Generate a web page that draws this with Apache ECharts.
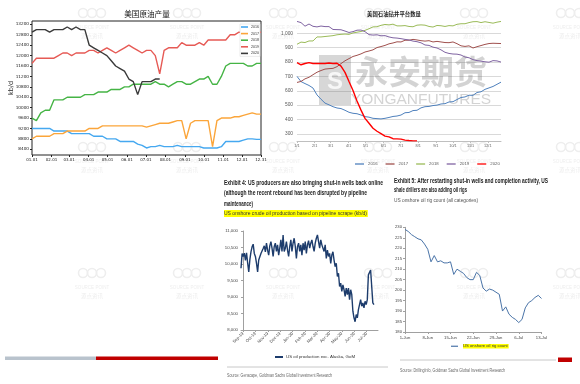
<!DOCTYPE html>
<html><head><meta charset="utf-8">
<script src="https://cdn.jsdelivr.net/npm/echarts@6/dist/echarts.min.js"></script>
<style>html,body{margin:0;padding:0;background:#fff}#c{width:580px;height:384px}</style>
</head><body><div id="c"></div>
<script>
// ---------- Chart 1: 美国原油产量 (weekly, kb/d) ----------
const prodDayTicks = [0,31,59,90,120,151,181,212,243,273,304,334,364];
const prodDayLabels = ['01.01','02.01','03.01','04.01','05.01','06.01','07.01','08.01','09.01','10.01','11.01','12.01','12.31'];
const prodYTicks = [8400,8800,9200,9600,10000,10400,10800,11200,11600,12000,12400,12800,13200];
const prodYears = ['2016','2017','2018','2019','2020'];
const prod2016 = [9200,9200,9200,9200,9200,9100,9100,9100,9100,9000,9000,9000,9000,9000,8900,8900,8900,8800,8800,8800,8700,8700,8700,8700,8600,8550,8450,8500,8500,8550,8500,8500,8500,8550,8500,8500,8500,8500,8500,8450,8450,8450,8450,8500,8700,8700,8700,8700,8750,8800,8800,8780,8780];
const prod2017 = [8800,8900,8900,8900,8900,9000,9000,9000,9100,9100,9100,9100,9100,9200,9200,9200,9300,9300,9300,9300,9300,9300,9300,9300,9300,9300,9250,9300,9350,9400,9400,9400,9450,9500,9500,8800,9400,9500,9500,9500,9500,8500,9500,9600,9600,9600,9650,9650,9700,9750,9800,9750,9750];
const prod2018 = [9600,9500,9800,9900,9900,10300,10300,10300,10400,10400,10400,10400,10500,10500,10500,10600,10600,10600,10700,10700,10700,10800,10800,10900,10900,10900,10900,10900,11000,10900,10900,10800,10900,11000,11000,10900,10900,11000,11100,11100,11200,10900,10900,11200,11600,11700,11700,11700,11700,11600,11600,11700,11700];
const prod2019 = [11700,11900,11900,11900,11900,11900,12000,12100,12100,12000,12100,12100,12100,12200,12200,12100,12200,12300,12200,12100,12200,12300,12400,12300,12200,12100,12200,12200,12000,11300,12200,12300,12300,12300,12500,12400,12400,12400,12500,12400,12600,12600,12600,12600,12600,12800,12800,12900,12900,12800,12800,12900,12900];
const prod2020 = [12900,13000,13000,13000,12900,13000,13000,13000,13100,13000,13100,13000,13000,12400,12300,12200,12100,12000,11800,11600,11500,11400,11100,11000,10500,11000,11000,11000,11100,11100];
const prodColors = ['#45a8f0','#fba53a','#45b445','#e65a55','#3a3a3a'];

// ---------- Chart 2: 美国石油钻井平台数量 (weekly) ----------
const rigWeekTicks = [0,4.4,8.4,12.9,17.1,21.6,25.9,30.3,34.7,39,43.4,47.7];
const rigWeekLabels = ['1/1','2/1','3/1','4/1','5/1','6/1','7/1','8/1','9/1','10/1','11/1','12/1'];
const rigYTicks = [300,400,500,600,700,800,900,1000];
const rig2016 = [700,664,650,637,619,571,541,514,502,489,480,476,464,450,443,440,431,420,416,408,406,404,408,414,421,424,431,447,449,462,464,481,489,491,497,500,508,510,522,524,539,553,557,569,568,588,593,610,620,630,645,660];
const rig2017 = [658,665,683,694,712,729,741,751,754,756,768,789,809,824,839,847,857,870,877,885,901,908,916,927,933,941,940,952,952,958,954,949,946,949,940,944,940,936,935,940,928,913,909,913,898,907,915,923,929,931,930,929];
const rig2018 = [924,939,936,947,947,975,975,978,981,984,990,993,995,993,1003,1008,1013,1021,1032,1045,1046,1056,1062,1059,1064,1052,1052,1054,1048,1046,1057,1059,1057,1048,1044,1055,1053,1048,1054,1052,1063,1067,1067,1075,1081,1082,1075,1081,1076,1071,1078,1083];
const rig2019 = [1083,1075,1050,1065,1049,1045,1051,1047,1047,1027,1026,1025,1016,1006,1012,1022,1023,1012,991,988,990,983,984,975,969,967,963,958,954,946,942,934,919,916,904,898,885,868,860,856,855,849,835,830,817,810,806,802,799,810,808,800];
const rig2020 = [796,781,790,796,790,791,790,790,793,790,792,772,728,664,602,529,465,408,374,339,318,301,284,279,266,265,263,256,253,251,251];
const rigColors = ['#4f81bd','#a0504d','#9bbb59','#8064a2','#ff0000'];

// ---------- Chart 3: US onshore crude production (kb/d), days from 2019-09-01 ----------
const gsProdTickDays = [0,30,61,91,122,153,182,213,243,274,304];
const gsProdTickLabels = ['Sep-19','Oct-19','Nov-19','Dec-19','Jan-20','Feb-20','Mar-20','Apr-20','May-20','Jun-20','Jul-20'];
const gsProdFirstDay = -5, gsProdLastDay = 322;
const gsProd = [9870,10320,10230,10330,10110,10340,10030,9760,10130,10370,10520,10600,10320,10230,10020,9760,10120,10220,10320,10370,10470,10550,10370,10630,10420,10270,10550,10680,10480,10230,10530,10630,10380,10580,10270,10480,10730,10380,10880,10380,10480,10680,10420,10230,10530,10730,10380,10630,10780,10530,10170,10530,10630,10380,10580,10270,10630,10420,10680,10320,10580,10710,10480,10630,10730,10530,10380,10630,10780,10880,10680,10480,10730,10580,10630,10380,10580,10170,10420,10230,10320,10020,10270,10370,10120,9920,10020,9620,9720,9320,9420,9170,9370,9220,9020,9270,9070,9270,8920,9220,9070,8570,8370,8250,8470,8370,8620,8770,8920,8720,8820,8670,8870,8770,8920,9670,9720,9820,9320,8820,8770];

// ---------- Chart 4: US onshore oil rig count, days from 1-Jun ----------
const gsRigTickDays = [0,7,14,21,28,35,42];
const gsRigTickLabels = ['1-Jun','8-Jun','15-Jun','22-Jun','29-Jun','6-Jul','13-Jul'];
const gsRig = [229,228,226.5,225.5,224.5,224,222,219.5,213.5,216.5,213.5,214,213,213,213.5,207.5,210,209,208,206,205,205,208.5,207,201,199.5,200.5,200,199,198,190,192,188.5,187,186,184.5,186,191.5,194,195,196.5,197.5,196];

// ---------- layout helpers ----------
const SANS = "'Liberation Sans',sans-serif";
const CJK = "'Noto Sans CJK SC',sans-serif";
const wmCols = [92,187,283,378,474,570];
const wmRows = [13,147,273];

const weekly = (arr, step) => arr.map((v,i)=>[i*step, v]);
const spread = (arr, a, b) => arr.map((v,i)=>[a + i*(b-a)/(arr.length-1), v]);
const fmtLbl = (ticks, labels) => (v) => { const k = ticks.findIndex(t=>Math.abs(t-v)<1e-6); return k>=0 ? labels[k] : ''; };
const mctx = document.createElement('canvas').getContext('2d');
// condensed text: scale horizontally so the line spans the width it has in the reference
function fitText(text, x, y, span, size, weight, color, extra) {
  mctx.font = (weight||'normal') + ' ' + size + 'px ' + SANS;
  const w = mctx.measureText(text).width;
  const st = Object.assign({text:text, fill:color, fontSize:size, fontWeight:weight||'normal', fontFamily:SANS, align:'left', verticalAlign:'middle'}, extra||{});
  return {type:'text', x:x, y:y, scaleX: span / w, style:st, z:5};
}

const series = [];
const prodData = [prod2016, prod2017, prod2018, prod2019, prod2020];
prodYears.forEach((y,k)=>series.push({type:'line', name:y, xAxisIndex:0, yAxisIndex:0, data:weekly(prodData[k],7), symbol:'none', lineStyle:{width:1.4, color:prodColors[k]}, itemStyle:{color:prodColors[k]}, z:3}));
const rigData = [rig2016, rig2017, rig2018, rig2019, rig2020];
prodYears.forEach((y,k)=>series.push({type:'line', name:'rig'+y, xAxisIndex:1, yAxisIndex:1, data:weekly(rigData[k],1), symbol:'none', lineStyle:{width:k===4?1.4:1, color:rigColors[k]}, itemStyle:{color:rigColors[k]}, z:3}));
series.push({type:'line', name:'US oil production exc. Alaska, GoM', xAxisIndex:2, yAxisIndex:2, data:spread(gsProd, gsProdFirstDay, gsProdLastDay), symbol:'none', lineStyle:{width:1.4, color:'#1d3c6c'}, itemStyle:{color:'#1d3c6c'}, z:3});
series.push({type:'line', name:'US onshore oil rig count', xAxisIndex:3, yAxisIndex:3, data:gsRig.map((v,i)=>[i,v]), symbol:'none', lineStyle:{width:1, color:'#4a74a8'}, itemStyle:{color:'#4a74a8'}, z:3});

const graphic = [];
// watermarks
wmCols.forEach(cx=>wmRows.forEach(cy=>{
  [-9,0,9].forEach(dx=>graphic.push({type:'circle', shape:{cx:cx+dx, cy:cy, r:4.5}, style:{fill:'none', stroke:'#eeeeee', lineWidth:1.6}, z:0, silent:true}));
  graphic.push({type:'text', x:cx, y:cy+15, style:{text:'SOURCE POINT', fill:'#eeeeee', fontSize:4.5, fontFamily:SANS, align:'center', verticalAlign:'middle'}, z:0, silent:true});
  graphic.push({type:'text', x:cx, y:cy+23, style:{text:'源点资讯', fill:'#eeeeee', fontSize:5.5, fontFamily:CJK, align:'center', verticalAlign:'middle'}, z:0, silent:true});
}));
// Yongan watermark
graphic.push({type:'rect', shape:{x:319, y:55, width:32, height:50}, style:{fill:'rgba(110,110,110,0.28)'}, z:1, silent:true});
graphic.push({type:'text', x:335, y:82, style:{text:'S', fill:'rgba(255,255,255,0.8)', fontSize:24, fontWeight:'bold', fontFamily:SANS, align:'center', verticalAlign:'middle'}, z:1, silent:true});
graphic.push({type:'text', x:421, y:71, style:{text:'永安期货', fill:'rgba(110,110,110,0.30)', fontSize:33, fontWeight:'bold', fontFamily:CJK, align:'center', verticalAlign:'middle'}, z:1, silent:true});
graphic.push({type:'text', x:421, y:100, style:{text:'YONGANFUTURES', fill:'rgba(110,110,110,0.30)', fontSize:15.5, fontFamily:SANS, align:'center', verticalAlign:'middle'}, z:1, silent:true});
// titles
graphic.push({type:'text', x:147, y:14, style:{text:'美国原油产量', fill:'#111', fontSize:7.6, fontFamily:CJK, align:'center', verticalAlign:'middle'}, z:5});
graphic.push({type:'text', x:394, y:14, style:{text:'美国石油钻井平台数量', fill:'#222', fontSize:5.4, fontWeight:'bold', fontFamily:CJK, align:'center', verticalAlign:'middle'}, z:5});
graphic.push(fitText('Exhibit 4: US producers are also bringing shut-in wells back online', 224, 183, 159, 7, 'bold', '#1a1a1a'));
graphic.push(fitText('(although the recent rebound has been disrupted by pipeline', 224, 193.5, 143, 7, 'bold', '#1a1a1a'));
graphic.push(fitText('maintenance)', 224, 204, 29, 7, 'bold', '#1a1a1a'));
graphic.push(fitText('US onshore crude oil production based on pipeline scrape (kb/d)', 224, 213.5, 143, 6.2, 'normal', '#333', {backgroundColor:'#ffff00', padding:[1,1,0,0]}));
graphic.push(fitText('Exhibit 5: After restarting shut-in wells and completion activity, US', 394, 181, 154, 7, 'bold', '#1a1a1a'));
graphic.push(fitText('shale drillers are also adding oil rigs', 394, 190.5, 73, 7, 'bold', '#1a1a1a'));
graphic.push(fitText('US onshore oil rig count (all categories)', 394, 200.5, 84, 6.2, 'normal', '#555'));
// bottom decorations
graphic.push({type:'rect', shape:{x:5, y:356.5, width:91, height:3.5}, style:{fill:'#b9c3cd'}, z:5});
graphic.push({type:'rect', shape:{x:96, y:356.5, width:122, height:3.5}, style:{fill:'#c00000'}, z:5});
graphic.push({type:'line', shape:{x1:227, y1:367, x2:388, y2:367}, style:{stroke:'#c8c8c8', lineWidth:1}, z:5});
graphic.push(fitText('Source: Genscape, Goldman Sachs Global Investment Research', 227, 376, 105, 4.8, 'normal', '#666'));
graphic.push({type:'line', shape:{x1:400, y1:360, x2:556, y2:360}, style:{stroke:'#c8c8c8', lineWidth:1}, z:5});
graphic.push({type:'rect', shape:{x:558, y:357.5, width:14, height:4.5}, style:{fill:'#c00000'}, z:5});
graphic.push(fitText('Source: DrillingInfo, Goldman Sachs Global Investment Research', 400, 371, 105, 4.8, 'normal', '#666'));

const option = {
  animation:false,
  backgroundColor:'#fff',
  graphic: graphic,
  grid:[
    {left:32, top:21, width:229, height:134, show:true, borderColor:'#222', borderWidth:1, backgroundColor:'transparent'},
    {left:297, top:19, width:204, height:122},
    {left:241, top:231, width:137, height:99},
    {left:405, top:227.3, width:136.5, height:104.7}
  ],
  xAxis:[
    {type:'value', gridIndex:0, min:0, max:364, axisLine:{show:false}, axisTick:{show:true, length:2, customValues:prodDayTicks, lineStyle:{color:'#222'}}, splitLine:{show:false}, axisLabel:{customValues:prodDayTicks, formatter:fmtLbl(prodDayTicks, prodDayLabels), fontSize:4, color:'#222', margin:3, fontFamily:'DejaVu Sans'}},
    {type:'value', gridIndex:1, min:0, max:51, axisLine:{show:true, lineStyle:{color:'#bfbfbf'}}, axisTick:{show:true, length:2, customValues:rigWeekTicks, lineStyle:{color:'#bfbfbf'}}, splitLine:{show:false}, axisLabel:{customValues:rigWeekTicks, formatter:fmtLbl(rigWeekTicks, rigWeekLabels), fontSize:3.8, color:'#666', margin:3}},
    {type:'value', gridIndex:2, min:gsProdFirstDay, max:332, axisLine:{show:true, lineStyle:{color:'#a0a0a0'}}, axisTick:{show:true, length:2, customValues:gsProdTickDays, lineStyle:{color:'#a0a0a0'}}, splitLine:{show:false}, axisLabel:{customValues:gsProdTickDays, formatter:fmtLbl(gsProdTickDays, gsProdTickLabels), fontSize:4.2, color:'#444', rotate:45, margin:3, fontFamily:SANS}},
    {type:'value', gridIndex:3, min:0, max:42, axisLine:{show:true, lineStyle:{color:'#a0a0a0'}}, axisTick:{show:true, length:2, customValues:gsRigTickDays, lineStyle:{color:'#a0a0a0'}}, splitLine:{show:false}, axisLabel:{customValues:gsRigTickDays, formatter:fmtLbl(gsRigTickDays, gsRigTickLabels), fontSize:4.2, color:'#444', margin:4, fontFamily:SANS}}
  ],
  yAxis:[
    {type:'value', gridIndex:0, min:8180, max:13330, axisLine:{show:false}, axisTick:{show:true, length:2, customValues:prodYTicks, lineStyle:{color:'#222'}}, splitLine:{show:false}, axisLabel:{customValues:prodYTicks, formatter:(v)=>String(v), fontSize:4.2, color:'#222', margin:3, fontFamily:'DejaVu Sans'}, name:'kb/d', nameLocation:'middle', nameGap:17, nameMoveOverlap:false, nameRotate:90, nameTextStyle:{fontSize:6.5, color:'#222', fontFamily:'DejaVu Sans'}},
    {type:'value', gridIndex:1, min:250, max:1100, axisLine:{show:false}, axisTick:{show:false, customValues:rigYTicks}, splitLine:{show:true, lineStyle:{color:'#d9d9d9', width:1}}, axisLabel:{customValues:rigYTicks, formatter:(v)=>v.toLocaleString('en-US'), fontSize:4.8, color:'#595959', margin:4}},
    {type:'value', gridIndex:2, min:8000, max:11000, interval:500, axisLine:{show:true, lineStyle:{color:'#a0a0a0'}}, axisTick:{show:true, length:2, lineStyle:{color:'#a0a0a0'}}, splitLine:{show:false}, axisLabel:{formatter:(v)=>v.toLocaleString('en-US'), fontSize:4.3, color:'#444', margin:3, fontFamily:SANS}},
    {type:'value', gridIndex:3, min:180, max:230, interval:5, axisLine:{show:true, lineStyle:{color:'#a0a0a0'}}, axisTick:{show:true, length:2, lineStyle:{color:'#a0a0a0'}}, splitLine:{show:false}, axisLabel:{fontSize:4.2, color:'#444', margin:3, fontFamily:SANS}}
  ],
  legend:[
    {data:prodYears, orient:'vertical', left:240, top:24, icon:'rect', itemWidth:7, itemHeight:1.6, itemGap:2.6, padding:[1,1,1,1], borderColor:'#ddd', borderWidth:0.6, backgroundColor:'#fff', textStyle:{fontSize:3.6, color:'#333', padding:[0,0,0,-2]}},
    {data:prodYears.map(y=>'rig'+y), orient:'horizontal', left:350, top:157, icon:'rect', itemWidth:9, itemHeight:1.3, itemGap:8, formatter:(n)=>n.replace('rig',''), textStyle:{fontSize:4.3, color:'#595959', padding:[0,0,0,-1]}},
    {data:['US oil production exc. Alaska, GoM'], left:270, top:350, icon:'rect', itemWidth:8, itemHeight:2, textStyle:{fontSize:4.4, color:'#333', fontFamily:SANS, padding:[0,0,0,-2]}},
    {data:['US onshore oil rig count'], left:446, top:339, icon:'rect', itemWidth:7, itemHeight:1.2, textStyle:{fontSize:4.2, color:'#333', fontFamily:SANS, backgroundColor:'#ffff00', padding:[0.5,1,0,0]}}
  ],
  series: series
};
const chart = echarts.init(document.getElementById('c'), null, {renderer:'canvas'});
chart.setOption(option);
</script>
</body></html>
